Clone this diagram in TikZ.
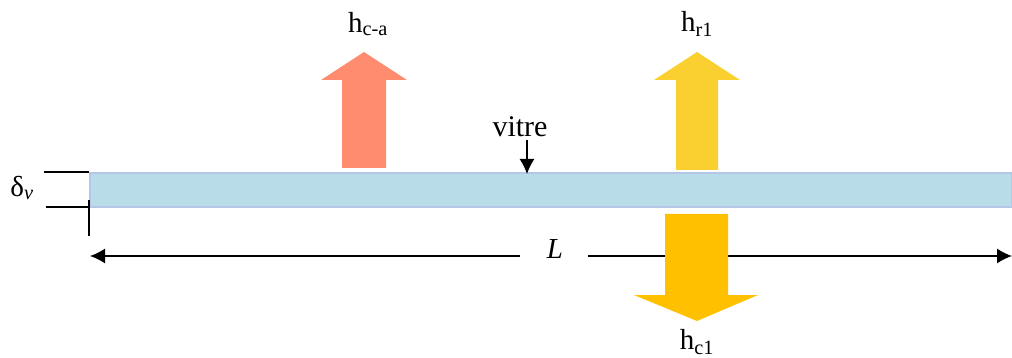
\documentclass[tikz,border=0pt]{standalone}
\usepackage{fontspec}
\setmainfont{Liberation Serif}
\usetikzlibrary{arrows.meta}
\definecolor{glassfill}{HTML}{B8DDE8}
\definecolor{glassedge}{HTML}{B4C7E7}
\definecolor{salmon}{HTML}{FF8C6F}
\definecolor{yelr}{HTML}{F9D030}
\definecolor{yelc}{HTML}{FFC000}
\tikzset{
  lbl/.style={inner sep=0pt, font=\fontsize{29}{34}\selectfont},
  thin/.style={line width=1.4pt, black},
  tip/.style={-{Latex[length=15pt,width=15pt]}},
}
\begin{document}
\begin{tikzpicture}[x=1pt,y=-1pt]
\useasboundingbox (0,0) rectangle (1012,358);
% dimension line L
\coordinate (Lleft) at (90,256);
\coordinate (Lright) at (1012,256);
\node[lbl] (L) at (555,249) {\textit{L}};
\draw[thin,tip] (520,256) -- (Lleft);
\draw[thin,tip] (588,256) -- (Lright);
% glass
\draw[glassedge, fill=glassfill, line width=1.2pt] (90,173) rectangle (1012,207);
\coordinate (glasstop) at (527,174);
% thickness
\draw[thin] (44,172) -- (89,172);
\draw[thin] (46,207) -- (89,207);
\draw[thin] (89,200) -- (89,236);
\node[lbl] (dv) at (22,188) {δ\textsubscript{\textit{v}}};
% vitre
\node[lbl, font=\fontsize{30}{34}\selectfont] (vitre) at (520,127) {vitre};
\draw[thin,tip] (527,140) -- (glasstop);
% h c-a arrow
\fill[salmon] (342,168) -- (342,80) -- (321,80) -- (364,52) -- (407,80) -- (386,80) -- (386,168) -- cycle;
\node[lbl] (hca) at (368,24) {h\textsubscript{c-a}};
% h r1 arrow
\fill[yelr] (676,170) -- (676,80) -- (654,80) -- (697,52) -- (740,80) -- (718,80) -- (718,170) -- cycle;
\node[lbl] (hr1) at (697,24) {h\textsubscript{r1}};
% h c1 arrow
\fill[yelc] (665,214) -- (728,214) -- (728,295) -- (758,295) -- (697,321) -- (634,295) -- (665,295) -- cycle;
\node[lbl] (hc1) at (697,342) {h\textsubscript{c1}};
\end{tikzpicture}
\end{document}
